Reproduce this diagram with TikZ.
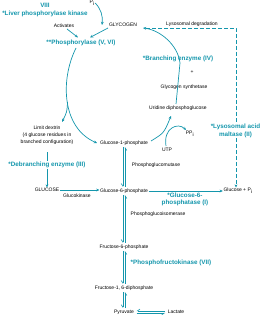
\documentclass[tikz,border=0pt]{standalone}
\usepackage{fontspec}
\setmainfont{Liberation Sans}
\usetikzlibrary{arrows.meta,calc}
\definecolor{tl}{RGB}{20,150,172}
\begin{document}
\begin{tikzpicture}[x=1pt,y=-1pt,
 lbl/.style={font=\fontsize{5}{6}\selectfont, inner sep=0.5pt, align=center},
 enz/.style={font=\fontsize{6.3}{7.6}\selectfont\bfseries, text=tl, inner sep=0.5pt, align=center},
 arr/.style={draw=tl, line width=0.7pt, -{Stealth[length=3.2pt,width=2.8pt]}},
 hp/.style={draw=tl, line width=0.6pt, -{Straight Barb[right,length=2.4pt,width=3.2pt]}},
 dsh/.style={draw=tl, line width=0.8pt, dash pattern=on 4pt off 2pt},
]
\useasboundingbox (0,0) rectangle (261,320);
% nodes
\node[enz] (kin) at (45,10) {VIII\\*Liver phosphorylase kinase};
\node[lbl] (pi1) at (92,3) {P\textsubscript{i}};
\node[lbl] (act) at (64,26) {Activates};
\node[lbl] (gly) at (123,25) {GLYCOGEN};
\node[lbl] (lyd) at (192,24) {Lysosomal degradation};
\node[enz] (phos) at (81,43) {**Phosphorylase (V, VI)};
\node[enz] (bre) at (178,59) {*Branching enzyme (IV)};
\node[lbl] (plus) at (192,72) {+};
\node[lbl] (gsyn) at (184,87) {Glycogen synthetase};
\node[lbl] (udpg) at (178,108) {Uridine diphosphoglucose};
\node[lbl, font=\fontsize{5}{7}\selectfont] (ld) at (47,135) {Limit dextrin\\(4 glucose residues in\\branched configuration)};
\node[lbl] (ppi) at (190,134) {PP\textsubscript{i}};
\node[lbl] (g1p) at (124,143) {Glucose-1-phosphate};
\node[lbl] (utp) at (167,150) {UTP};
\node[enz] (lam) at (235.5,131) {*Lysosomal acid\\maltase (II)};
\node[lbl] (pgm) at (156,165) {Phosphoglucomutase};
\node[enz] (deb) at (47,165) {*Debranching enzyme (III)};
\node[lbl] (glc) at (47,190) {GLUCOSE};
\node[lbl] (gk) at (77,196) {Glucokinase};
\node[lbl] (g6p) at (124,191) {Glucose-6-phosphate};
\node[lbl] (gpi) at (238,191) {Glucose + P\textsubscript{i}};
\node[enz] (g6pase) at (185,199.5) {*Glucose-6-\\phosphatase (I)};
\node[lbl, anchor=west] (pgi) at (130,214) {Phosphoglucoisomerase};
\node[lbl] (f6p) at (124,247) {Fructose-6-phosphate};
\node[enz, anchor=west] (pfk) at (130,263) {*Phosphofructokinase (VII)};
\node[lbl] (f16) at (124,288) {Fructose-1, 6-diphosphate};
\node[lbl] (pyr) at (124,312) {Pyruvate};
\node[lbl] (lac) at (176,312) {Lactate};
% coordinates
\coordinate (a1) at (67,29);
\coordinate (a2) at (78,37.5);
\coordinate (gl1) at (108,28);
\coordinate (gl2) at (90,37.5);
\coordinate (pi2) at (102,25);
\coordinate (ph1) at (76,48);
\coordinate (br) at (67.5,102);
\coordinate (ldt) at (62,122);
\coordinate (g1w) at (97,143);
\coordinate (d1) at (47,152);
\coordinate (dl) at (146,28);
\coordinate (dc) at (236,28);
\coordinate (u1) at (176,104);
\coordinate (bc) at (180,63);
\coordinate (gh) at (143,28);
\coordinate (g1e) at (151,141);
\coordinate (ud) at (171,116);
\coordinate (ut) at (166,146);
\coordinate (pp) at (186,130);
% connectors
\draw[arr] (pi1.east) .. controls (101,9) and (103,16) .. (pi2);
\draw[arr] (a1) -- (a2);
\draw[arr] (gl1) -- (gl2);
\draw[arr] (ph1) .. controls (60,80) and (62,128) .. (g1w);
\draw[arr] (br) .. controls (67,112) .. (ldt);
\draw[draw=tl, line width=0.7pt] (d1) -- (deb.north);
\draw[arr] (deb.south) -- (glc.north);
\draw[dsh] (dl) -- (dc) -- (dc |- lam.north);
\draw[dsh, -{Stealth[length=3.2pt,width=2.8pt]}] (dc |- lam.south) -- (dc |- gpi.north);
\draw[arr] (u1) -- (bc) .. controls (178,45) and (160,30) .. (gh);
\draw[arr] (g1e) .. controls (164,133) .. (ud);
\draw[arr] (ut) .. controls (163,128) and (178,122) .. (pp);
\draw[arr] (glc.east) -- (glc.east -| g6p.west);
\draw[arr] (g6p.east) -- (g6p.east -| gpi.west);
% equilibria
\draw[hp] ($(g1p.south)+(-1.2,1)$) -- ($(g6p.north)+(-1.2,-1)$);
\draw[hp] ($(g6p.north)+(1.2,-1)$) -- ($(g1p.south)+(1.2,1)$);
\draw[hp] ($(g6p.south)+(-1.2,1)$) -- ($(f6p.north)+(-1.2,-1)$);
\draw[hp] ($(f6p.north)+(1.2,-1)$) -- ($(g6p.south)+(1.2,1)$);
\draw[hp] ($(f6p.south)+(-1.2,1)$) -- ($(f16.north)+(-1.2,-1)$);
\draw[hp] ($(f16.north)+(1.2,-1)$) -- ($(f6p.south)+(1.2,1)$);
\draw[hp] ($(f16.south)+(-1.2,1)$) -- ($(pyr.north)+(-1.2,-1)$);
\draw[hp] ($(pyr.north)+(1.2,-1)$) -- ($(f16.south)+(1.2,1)$);
\draw[hp] ($(lac.west)+(-2,-1.2)$) -- ($(pyr.east)+(2,-1.2)$);
\draw[hp] ($(pyr.east)+(2,1.2)$) -- ($(lac.west)+(-2,1.2)$);
\end{tikzpicture}
\end{document}
